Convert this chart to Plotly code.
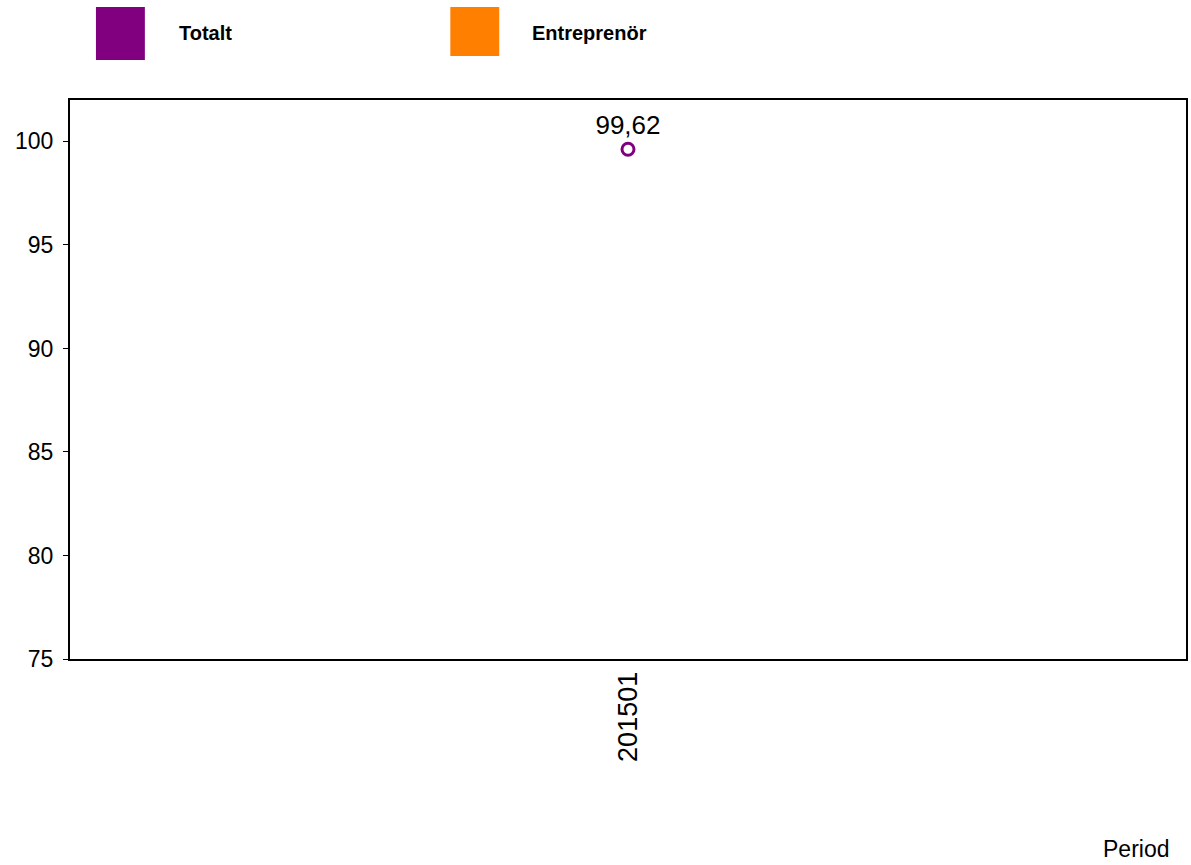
import plotly.graph_objects as go

# Data
periods = ["201501"]
totalt = [99.62]
entreprenor = [None]
series_names = ["Totalt", "Entreprenör"]
series_colors = ["#800080", "#FF8000"]
y_ticks = [75, 80, 85, 90, 95, 100]

W, H = 1191, 865
L, R, T, B = 70, 3, 100, 206
PW, PH = W - L - R, H - T - B

def px_x(x):
    return (x - L) / PW

def px_y(y):
    return (H - B - y) / PH

FONT = "Liberation Sans, Arial, sans-serif"

fig = go.Figure()
fig.add_trace(go.Scatter(
    x=periods, y=totalt, name=series_names[0],
    mode="markers+text",
    marker=dict(symbol="circle-open", size=12, color=series_colors[0],
                line=dict(width=3, color=series_colors[0])),
    text=[f"{v:.2f}".replace(".", ",") for v in totalt],
    textposition="top center",
    textfont=dict(size=26, color="black", family=FONT),
    showlegend=False, cliponaxis=False,
))
fig.add_trace(go.Scatter(
    x=periods, y=entreprenor, name=series_names[1],
    mode="lines+markers", marker=dict(color=series_colors[1]),
    line=dict(color=series_colors[1]), showlegend=False,
))

shapes = []
annotations = []
legend_boxes = [(96, 7, 145, 60, 177), (451, 7, 500, 56, 531)]
for (x0, y0, x1, y1, tx), name, col in zip(legend_boxes, series_names, series_colors):
    shapes.append(dict(type="rect", xref="paper", yref="paper",
                       x0=px_x(x0), x1=px_x(x1), y0=px_y(y1), y1=px_y(y0),
                       fillcolor=col, line=dict(width=0)))
    annotations.append(dict(xref="paper", yref="paper", x=px_x(tx), y=px_y(33),
                            xanchor="left", yanchor="middle", showarrow=False,
                            text=f"<b>{name}</b>",
                            font=dict(size=20, color="black", family=FONT)))

annotations.append(dict(xref="paper", yref="paper", x=px_x(1173), y=px_y(849),
                        xanchor="right", yanchor="middle", showarrow=False,
                        text="Period", font=dict(size=23, color="black", family=FONT)))

fig.update_layout(
    width=W, height=H,
    margin=dict(l=L, r=R, t=T, b=B, pad=0),
    plot_bgcolor="white", paper_bgcolor="white",
    font=dict(family=FONT, size=24, color="black"),
    shapes=shapes, annotations=annotations,
    showlegend=False,
)
fig.update_xaxes(type="category", showline=True, linecolor="black", linewidth=2,
                 mirror=True, showgrid=False, ticks="", tickangle=-90,
                 tickfont=dict(size=27), zeroline=False)
fig.update_yaxes(range=[75, 102], tickvals=y_ticks, showline=True, linecolor="black",
                 linewidth=2, mirror=True, showgrid=False, ticks="outside", ticklen=5,
                 tickcolor="black", tickwidth=1, tickfont=dict(size=23), zeroline=False,
                 ticklabelstandoff=5)

fig.write_html(
    "out.html",
    config={"displayModeBar": False},
    post_script="document.body.style.margin='0';document.body.style.overflow='hidden';",
)
